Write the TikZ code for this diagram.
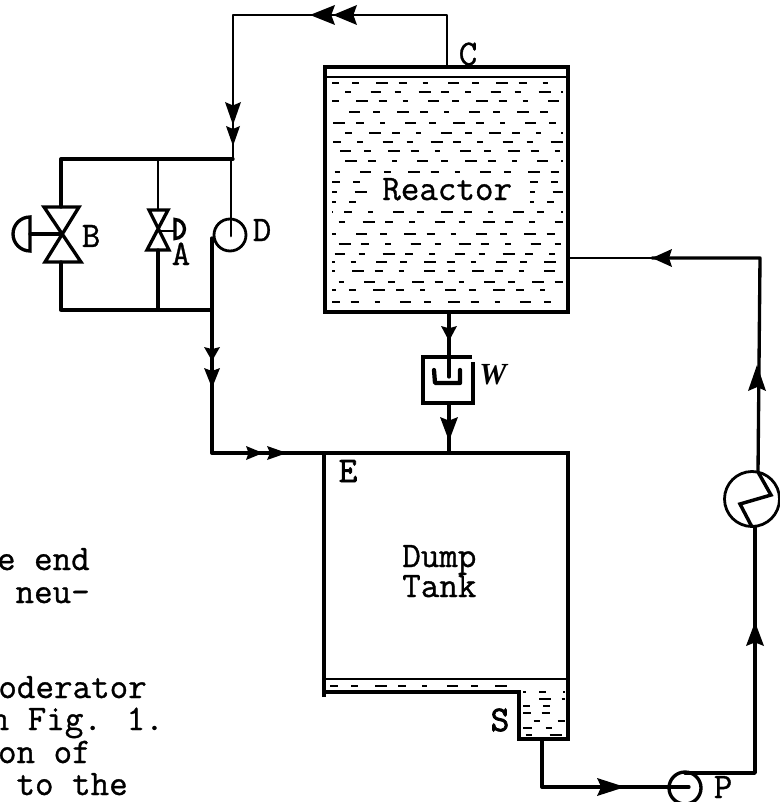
\documentclass[tikz,border=0pt]{standalone}
\usepackage{fontspec}
\newfontfamily\typerfont[FakeBold=0.9]{Latin Modern Mono}
\newfontfamily\heavyfont[FakeBold=2.2]{Latin Modern Mono}
\newfontfamily\italicfont{Liberation Serif}
\usetikzlibrary{calc}
\tikzset{
  x=0.75pt,y=-0.75pt,
  pipe/.style={draw=black,line width=2.5pt,line join=round,line cap=round},
  thinpipe/.style={draw=black,line width=2pt,line join=round,line cap=round},
  wall/.style={draw=black,line width=3pt,line join=miter},
  sym/.style={draw=black,line width=2.5pt,line join=miter,fill=none},
  typed/.style={font=\typerfont\fontsize{27}{30}\selectfont,inner sep=0pt,text=black,anchor=base west},
  heavy/.style={font=\heavyfont\fontsize{27}{30}\selectfont,inner sep=0pt,text=black},
  bodytext/.style={typed,anchor=base east},
  liquid/.style={draw=black,line width=1.9pt}
}
% arrowhead: tip x, tip y, direction, length, half width
\newcommand{\flowhead}[5]{\fill[black,shift={(#1,#2)},rotate=#3] (0,0) -- (-#4,#5) -- (-0.85*#4,0) -- (-#4,-#5) -- cycle;}
\newcommand{\liqrow}[4]{\draw[liquid,dash pattern=on 8pt off 10pt on 5pt off 13pt on 9pt off 8pt on 6pt off 12pt on 4pt off 15pt,dash phase=#4] (#2,#1) -- (#3,#1);}
\begin{document}
\begin{tikzpicture}
\useasboundingbox (0,0) rectangle (780,802);
% named points
\coordinate (topL) at (233,15);
\coordinate (topR) at (447,15);
\coordinate (reacIn) at (447,67);
\coordinate (junc) at (233,159);
\coordinate (juncL) at (61,159);
\coordinate (botL) at (61,310);
\coordinate (botM) at (212,310);
\coordinate (dOut) at (212,238);
\coordinate (elbow) at (212,453);
\coordinate (retC) at (760,258);
\coordinate (retR) at (568,258);
\coordinate (pipeP) at (755,773);
\coordinate (pTop) at (685,773);
\coordinate (sOut) at (542,739);
\coordinate (sElb) at (542,787);
% Reactor
\draw[wall] (325,67) rectangle (568,312);
\draw[line width=2pt] (325,77) -- (568,77);
\foreach \yy/\ph in {83/3,92/61,101/18,112/77,123/35,133/8,142/52,151/84,161/26,172/69,212/44,222/13,234/72,244/31,254/88,262/57,271/21,282/66,290/5,302/39}
  {\liqrow{\yy}{332}{563}{\ph pt}}
\foreach \yy/\ph in {182/2,192/19,202/5}
  {\liqrow{\yy}{332}{372}{\ph pt}\liqrow{\yy}{530}{563}{\ph pt}}
\node[typed] (reactor) at (382,200) {Reactor};
\node[typed,anchor=base] (clabel) at (468,65) {C};
% Dump tank
\draw[wall] (324,697) -- (324,453);
\draw[wall] (212,453) -- (568,453) -- (568,739) -- (519,739) -- (519,692) -- (324,692);
\draw[line width=2pt] (324,679) -- (568,679);
\liqrow{686}{330}{517}{2pt}
\foreach \yy/\ph in {692/6,699/24,706/3,713/39,721/10,728/1,735/16}
  {\liqrow{\yy}{523}{565}{\ph pt}}
\node[typed] (dump) at (402,567) {Dump};
\node[typed] (tank) at (402,597) {Tank};
\node[heavy,anchor=base] (elabel) at (348,482) {E};
\node[heavy,anchor=base] (slabel) at (500,731) {S};
% top loop
\draw[thinpipe] (reacIn) -- (topR) -- (topL) -- (junc);
\draw[thinpipe] (junc) -- (231,159) -- (231,236);
\flowhead{310}{15}{180}{25}{10}
\flowhead{333}{15}{180}{24}{10}
\flowhead{233}{125}{270}{23}{8}
\flowhead{233}{146}{270}{20}{7}
% parallel valves
\draw[pipe] (junc) -- (juncL) -- (61,207);
\draw[pipe] (61,262) -- (botL) -- (botM);
\draw[thinpipe] (158,159) -- (158,210);
\draw[pipe] (158,250) -- (158,310);
% valve B
\draw[sym] (44,207) -- (79,207) -- (45,262) -- (81,262) -- cycle;
\draw[pipe] (61,234) -- (30,234);
\draw[sym] (30,251) arc[start angle=90,end angle=270,radius=17] -- cycle;
\node[typed,anchor=base] (blabel) at (91,247) {B};
% valve A
\draw[sym] (149,210) -- (168,210) -- (147,250) -- (169,250) -- cycle;
\draw[thinpipe] (158,231) -- (175,231);
\draw[sym] (175,238.5) arc[start angle=90,end angle=-90,radius=9.5] -- cycle;
\node[typed,anchor=base] (alabel) at (181,265) {A};
% D
\draw[line width=2.1pt] (230,235) circle[radius=16];
\node[typed,anchor=base] (dlabel) at (262,241) {D};
\draw[pipe] (dOut) -- (elbow) -- (324,453);
\flowhead{212}{361}{270}{14}{8}
\flowhead{212}{388}{270}{20}{8}
\flowhead{263}{453}{0}{17}{7}
\flowhead{287}{453}{0}{20}{7}
% W
\draw[pipe] (449,312) -- (449,377);
\flowhead{449}{341}{270}{15}{8}
\draw[sym] (472,357) -- (423,357) -- (423,403) -- (473,403) -- (473,362);
\draw[line width=3.2pt,line cap=round,line join=round] (434,370) -- (435,383) -- (460,383) -- (460,370);
\draw[pipe] (449,403) -- (449,453);
\flowhead{449}{441}{270}{24}{9}
\node[inner sep=0pt,anchor=base,font=\italicfont\bfseries\itshape\fontsize{23}{25}\selectfont] (wlabel) at (493,384) {W};
% return
\draw[pipe] (755,527) -- (pipeP) -- (pTop);
\draw[thinpipe] (retR) -- (652,258);
\draw[pipe] (652,258) -- (retC) -- (758,472);
\flowhead{652}{258}{180}{20}{9}
\flowhead{757}{365}{90}{26}{9}
\flowhead{755}{622}{90}{24}{9}
% heat exchanger
\draw[line width=2.1pt] (752,499) circle[radius=27.5];
\draw[line width=2.6pt,line join=miter] (758,472) -- (771,495) -- (740,504) -- (752,527);
% pump
\draw[line width=2.5pt] (685,788) circle[radius=16];
\draw[pipe] (sOut) -- (sElb) -- (689,787);
\flowhead{625}{787}{0}{28}{9}
\node[typed,anchor=base] (plabel) at (723,798) {P};
% body text
\node[bodytext] (t1) at (90,570) {e end};
\node[bodytext] (t2) at (90,603) {neu-};
\node[bodytext] (t3) at (147,698) {oderator};
\node[bodytext] (t4) at (164,730) {n Fig. 1.};
\node[bodytext] (t5) at (91,763) {on of};
\node[bodytext] (t6) at (128,795) {to the};
\end{tikzpicture}
\end{document}
